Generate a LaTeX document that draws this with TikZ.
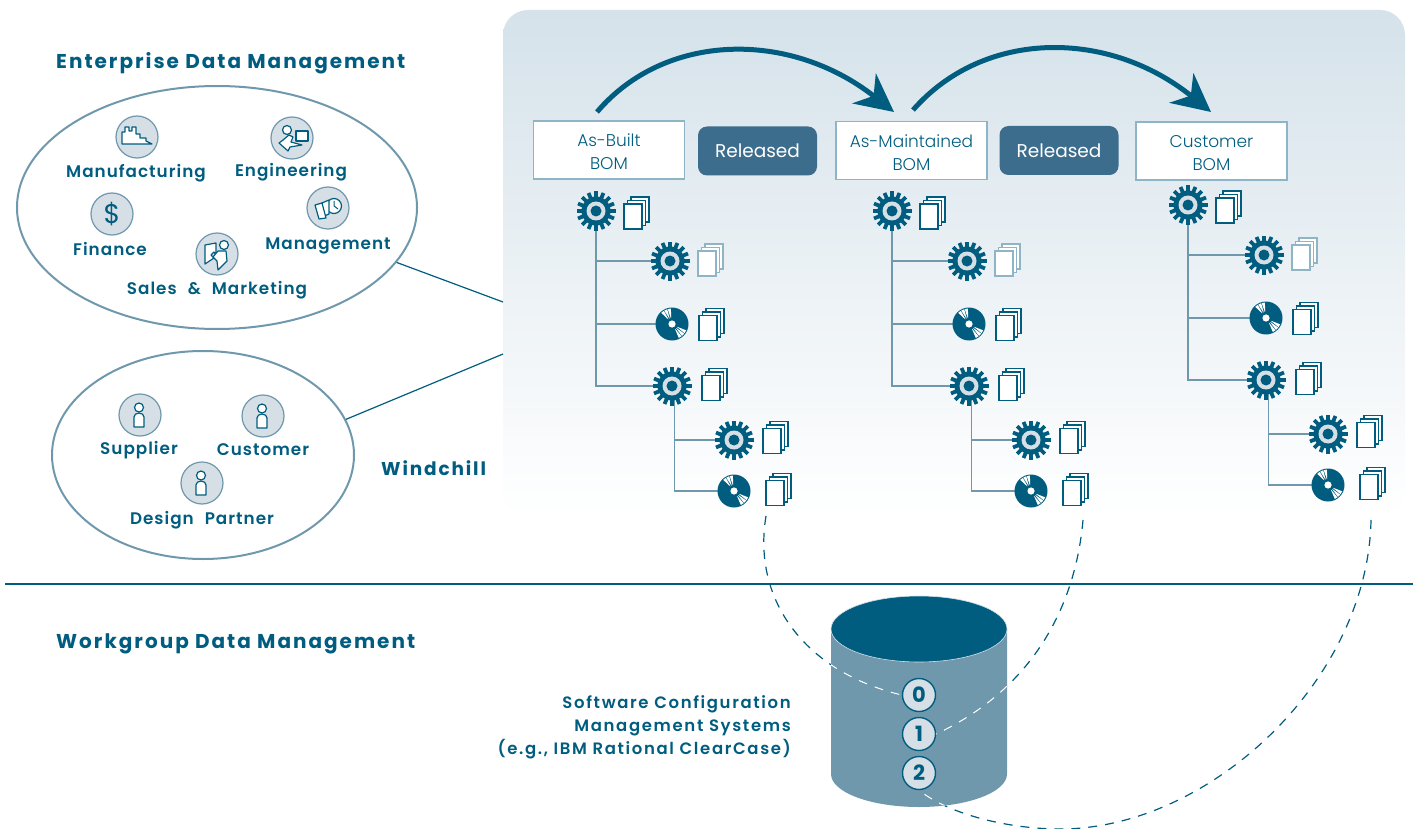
\documentclass[tikz,border=0pt]{standalone}
\usepackage{fontspec}
\usepackage{tikz}
\usetikzlibrary{arrows.meta,shapes.geometric}
\setmainfont{Poppins}
\newfontfamily\boldlabel[LetterSpace=6,WordSpace=2.2]{Poppins SemiBold}
\newfontfamily\widelabel[LetterSpace=10]{Poppins SemiBold}
\newfontfamily\titlelabel[LetterSpace=10]{Poppins}
\newfontfamily\thinlabel{Poppins Light}
\definecolor{ink}{HTML}{005D7F}
\definecolor{steel}{HTML}{6F98AD}
\definecolor{pale}{HTML}{D5DFE5}
\definecolor{sky}{HTML}{D5E2EA}
\definecolor{faint}{HTML}{8FB4C6}
\definecolor{slate}{HTML}{3D6D8D}
\tikzset{
  hub/.style={circle,inner sep=0pt,minimum size=30pt},
  group/.style={ellipse,draw=steel,line width=2pt,inner sep=0pt},
  badge/.style={circle,draw=steel,fill=pale,line width=1.2pt,inner sep=0pt,minimum size=42pt},
  tag/.style={text=ink,text height=12pt,text depth=0pt,inner sep=0pt,font=\boldlabel\fontsize{16.8}{20}\selectfont},
  title/.style={text=ink,anchor=base west,inner sep=0pt,font=\titlelabel\bfseries\fontsize{20}{24}\selectfont},
  bom/.style={draw=faint,fill=white,line width=1.2pt,minimum width=151pt,minimum height=58pt,inner sep=0pt,
    align=center,text=ink,font=\thinlabel\fontsize{17}{23}\selectfont},
  released/.style={fill=slate,rounded corners=9pt,minimum width=119pt,minimum height=49pt,inner sep=0pt,
    text=white,font=\fontsize{18.5}{22}\selectfont},
  version/.style={circle,draw=ink,fill=pale,line width=1.4pt,inner sep=0pt,minimum size=33pt,
    text=ink,font=\bfseries\fontsize{21}{24}\selectfont},
  flow/.style={draw=ink,line width=5pt,-{Stealth[length=38pt,width=38pt,inset=12pt]}},
  branch/.style={draw=steel,line width=1.3pt},
  link/.style={draw=ink,line width=1.2pt},
  trace/.style={line width=1.2pt,dash pattern=on 9pt off 8pt},
  icon/.style={draw=ink,fill=white,line width=1.2pt,line join=round},
  pics/gear/.style={code={
    \foreach \a in {0,22.5,...,337.5} \draw[ink,line width=3.8pt] (\a:12) -- (\a:19.5);
    \fill[ink] (0,0) circle[radius=14.5];
    \fill[pale] (0,0) circle[radius=9.5];
    \fill[ink] (0,0) circle[radius=5.5];
  }},
  pics/disc/.style={code={
    \fill[ink] (0,0) circle[radius=16.5];
    \foreach \a in {-100,-114,-128,30,44,58} \fill[white] (\a:5) -- (\a-6:15.5) -- (\a+6:15.5) -- cycle;
    \fill[ink] (0,0) circle[radius=6];
    \fill[white] (0,0) circle[radius=3.6];
  }},
  pics/docs/.style={code={
    \foreach \d in {7,3.5,0} \filldraw[draw=#1,fill=white,line width=1.5pt] (\d-9,-\d-12.5) rectangle +(18,25);
  }},
  pics/person/.style={code={
    \filldraw[icon] (-1,-7.5) circle[radius=4.5];
    \filldraw[icon] (-6,12) -- (-6,2) arc[start angle=180,end angle=360,x radius=5,y radius=4] -- (4,12) -- cycle;
  }},
}
\begin{document}
\begin{tikzpicture}[x=1pt,y=-1pt]
  \useasboundingbox (0,0) rectangle (1413,829);
  \shade[top color=sky,bottom color=white,rounded corners=25pt] (503,10) rectangle (1405,516);

  % groups on the left
  \coordinate (portA) at (503,302);
  \coordinate (portB) at (503,354);
  \node[group,minimum width=400pt,minimum height=243pt] (enterprise) at (217,207.5) {};
  \node[group,minimum width=302pt,minimum height=208pt] (partners) at (203,455) {};
  \draw[link] (enterprise.-17) -- (portA);
  \draw[link] (partners.14) -- (portB);

  \node[title] (edm) at (56,69) {Enterprise Data Management};
  \node[title,font=\titlelabel\bfseries\fontsize{18.5}{24}\selectfont] (windchill) at (381,475) {Windchill};
  \node[title] (wdm) at (56,648) {Workgroup Data Management};

  \node[badge] (mfg) at (137,137) {};
  \node[badge] (eng) at (292,138) {};
  \node[badge] (fin) at (112,214) {};
  \node[badge] (mgt) at (328,208) {};
  \node[badge] (sal) at (217,254) {};
  \node[badge] (sup) at (140,415) {};
  \node[badge] (cus) at (263,416) {};
  \node[badge] (des) at (202,483) {};

  \node[tag] (mfglabel) at (136,172) {Manufacturing};
  \node[tag] (englabel) at (291,171) {Engineering};
  \node[tag] (finlabel) at (110,249) {Finance};
  \node[tag] (mgtlabel) at (328,243) {Management};
  \node[tag] (sallabel) at (217,288) {Sales \& Marketing};
  \node[tag] (suplabel) at (139,448) {Supplier};
  \node[tag] (cuslabel) at (263,449) {Customer};
  \node[tag] (deslabel) at (202,518) {Design Partner};

  % factory
  \filldraw[icon,shift={(137,137)}] (-15,7) -- (-15,-5) -- (-12,-5) -- (-12,-10) -- (-8,-10) -- (-8,-6) -- (-5,-6)
    -- (-5,-10) -- (-1,-10) -- (-1,-3) -- (3,-3) -- (3,1) -- (9,1) -- (9,4) -- (15,7) -- cycle;
  % engineer at a screen
  \begin{scope}[shift={(292,138)}]
    \filldraw[icon] (4,-7) rectangle (16,3);
    \filldraw[icon] (-5,-8) circle[radius=4.5];
    \filldraw[icon] (-9,2) -- (-3,-3) -- (1,-1) -- (-1,4) -- (10,7) -- (-2,9) -- (-4,13) -- (-13,5) -- cycle;
  \end{scope}
  \node[text=ink,font=\fontsize{27}{30}\selectfont,inner sep=0pt] (dollar) at (112,214) {\$};
  % pages and clock
  \begin{scope}[shift={(328,208)}]
    \filldraw[icon] (6,-2) circle[radius=7.5];
    \draw[ink,line width=1pt] (6,-7) -- (6,-2) -- (10,1);
    \filldraw[icon] (-6,-5) -- (1,-8) -- (1,6) -- (-6,9) -- cycle;
    \filldraw[icon] (-13,-3) -- (-6,-5) -- (-2,10) -- (-9,11) -- cycle;
  \end{scope}
  % salesman and pages
  \begin{scope}[shift={(217,254)}]
    \filldraw[icon] (7,-9) circle[radius=4.5];
    \filldraw[icon] (-12,-9) -- (-1,-11) -- (-1,1) -- (-3,-2) -- (-6,1) -- (-3,4) -- (-12,10) -- cycle;
    \filldraw[icon] (1,-3) -- (9,-3) -- (10,7) -- (1,16) -- (0,7) -- (-4,3) -- cycle;
  \end{scope}
  \pic at (sup) {person};
  \pic at (cus) {person};
  \pic at (des) {person};

  % BOM boxes and the arrows between them
  \node[bom] (built) at (609,150) {\rule{0pt}{16.5pt}As-Built\\BOM};
  \node[bom] (kept) at (911.5,150.5) {\rule{0pt}{16.5pt}As-Maintained\\BOM};
  \node[bom] (cust) at (1211.5,151) {\rule{0pt}{16.5pt}Customer\\BOM};
  \node[released] (relA) at (757.5,151) {Released};
  \node[released] (relB) at (1059,150.5) {Released};
  \coordinate (startA) at (597,112);
  \coordinate (endA) at (894,112);
  \coordinate (startB) at (913,110);
  \coordinate (endB) at (1211,112);
  \draw[flow] (startA) .. controls (665,32) and (790,30) .. (endA);
  \draw[flow] (startB) .. controls (985,28) and (1110,30) .. (endB);

  % the three trees
  \foreach \tn/\tx/\ty/\rx in {a/0/0/0,b/297/0/-1,c/594/-6/-2}{
    \begin{scope}[shift={(\tx,\ty)}]
      \node[hub] (\tn1) at (596+\rx,211) {};
      \node[hub] (\tn2) at (670,261) {};
      \node[hub] (\tn3) at (672,324) {};
      \node[hub] (\tn4) at (672,386) {};
      \node[hub] (\tn5) at (734,440) {};
      \node[hub] (\tn6) at (734,491) {};
      \draw[branch] (\tn1.center) |- (\tn2.center);
      \draw[branch] (\tn1.center) |- (\tn3.center);
      \draw[branch] (\tn1.center) |- (\tn4.center);
      \draw[branch] ([xshift=2.5pt]\tn4.center) |- (\tn5.center);
      \draw[branch] ([xshift=2.5pt]\tn4.center) |- (\tn6.center);
      \pic at (\tn1) {gear};
      \pic at (\tn2) {gear};
      \pic at (\tn3) {disc};
      \pic at (\tn4) {gear};
      \pic at (\tn5) {gear};
      \pic at (\tn6) {disc};
      \pic at (633+\rx,216.5) {docs=ink};
      \pic at (707,263.5) {docs=faint};
      \pic at (708,328) {docs=ink};
      \pic at (711,388) {docs=ink};
      \pic at (772,441) {docs=ink};
      \pic at (775,493) {docs=ink};
    \end{scope}
  }

  \coordinate (ruleL) at (5,584);
  \coordinate (ruleR) at (1413,584);
  \draw[link] (ruleL) -- (ruleR);

  % repository
  \fill[steel] (831,629) -- (831,774) arc[start angle=180,end angle=0,x radius=88,y radius=33] -- (1007,629) -- cycle;
  \filldraw[fill=ink,draw=pale,line width=.6pt] (919,629) ellipse[x radius=88,y radius=33];
  \node[version] (v0) at (919,695) {0};
  \node[version] (v1) at (919,734) {1};
  \node[version] (v2) at (919,773) {2};
  \coordinate (tailA) at (766,516);
  \coordinate (tailB) at (1083,520);
  \coordinate (tailC) at (1371,520);
  \newcommand{\traceA}{(tailA) .. controls (752,600) and (805,672) .. (v0.west)}
  \newcommand{\traceB}{(tailB) .. controls (1075,610) and (1030,690) .. (v1.east)}
  \newcommand{\traceC}{(tailC) .. controls (1368,680) and (1210,829) .. (1060,829) .. controls (1010,829) and (950,815) .. (v2.south)}
  \draw[trace,ink] \traceA;
  \draw[trace,ink] \traceB;
  \draw[trace,ink] \traceC;
  \begin{scope}
    \clip (831,662) -- (831,774) arc[start angle=180,end angle=0,x radius=88,y radius=33] -- (1007,629) arc[start angle=0,end angle=180,x radius=88,y radius=-33] -- cycle;
    \draw[trace,white] \traceA;
    \draw[trace,white] \traceB;
    \draw[trace,white] \traceC;
  \end{scope}
  \node[text=ink,align=right,anchor=east,font=\widelabel\fontsize{16.5}{23}\selectfont,inner sep=0pt] (scm) at (791,727)
    {Software Configuration\\Management Systems\\(e.g., IBM Rational ClearCase)};
\end{tikzpicture}
\end{document}
